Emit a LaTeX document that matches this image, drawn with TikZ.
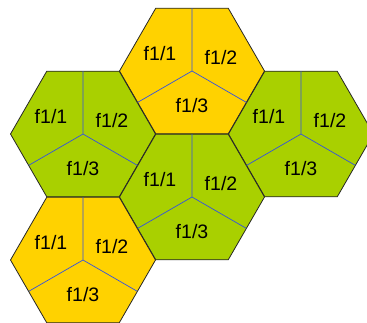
\documentclass[tikz,border=0pt]{standalone}
\usepackage{fontspec}
\setmainfont{Liberation Sans}
\usetikzlibrary{shapes.geometric}

\definecolor{cellyellow}{HTML}{FFD200}
\definecolor{cellgreen}{HTML}{A9D000}
\definecolor{divblue}{HTML}{3352E0}

\tikzset{%
  every cell/.style={
    regular polygon,
    regular polygon sides=6,
    draw=black!85,
    line width=0.8pt,
    minimum size=145pt,
    inner sep=0pt,
    outer sep=0pt
  },
  cell yellow/.style={fill=cellyellow},
  cell green/.style={fill=cellgreen},
  divider/.style={
    draw=divblue,
    line width=0.7pt
  },
  sector/.style={
    font=\fontsize{19.5}{21}\selectfont,
    inner sep=0pt
  },
}

\begin{document}
\begin{tikzpicture}[x=1pt, y=-1pt]

\useasboundingbox (0,0) rectangle (367,322);

% CELLS
\foreach \n/\c/\x/\y in {top/yellow/192/71, left/green/83/134,
    right/green/301/134, middle/green/192/197, bottom/yellow/83/260}
  \node [every cell, cell \c] (cell-\n) at (\x,\y) {};

% Dividers: centre -> side midpoints
\foreach \n in {top,left,right,middle,bottom}
  \draw [divider] (cell-\n.center) -- (cell-\n.90)
    (cell-\n.center) -- (cell-\n.210)
    (cell-\n.center) -- (cell-\n.330);

% SECTOR labels
\foreach \n in {top,left,right,middle,bottom} {
  \node [sector] (\n-1) at ([shift={(-32,-17)}]cell-\n.center) {f1/1};
  \node [sector] (\n-2) at ([shift={(29,-13)}]cell-\n.center) {f1/2};
  \node [sector] (\n-3) at ([shift={(0,35)}]cell-\n.center) {f1/3};
}

\end{tikzpicture}
\end{document}
